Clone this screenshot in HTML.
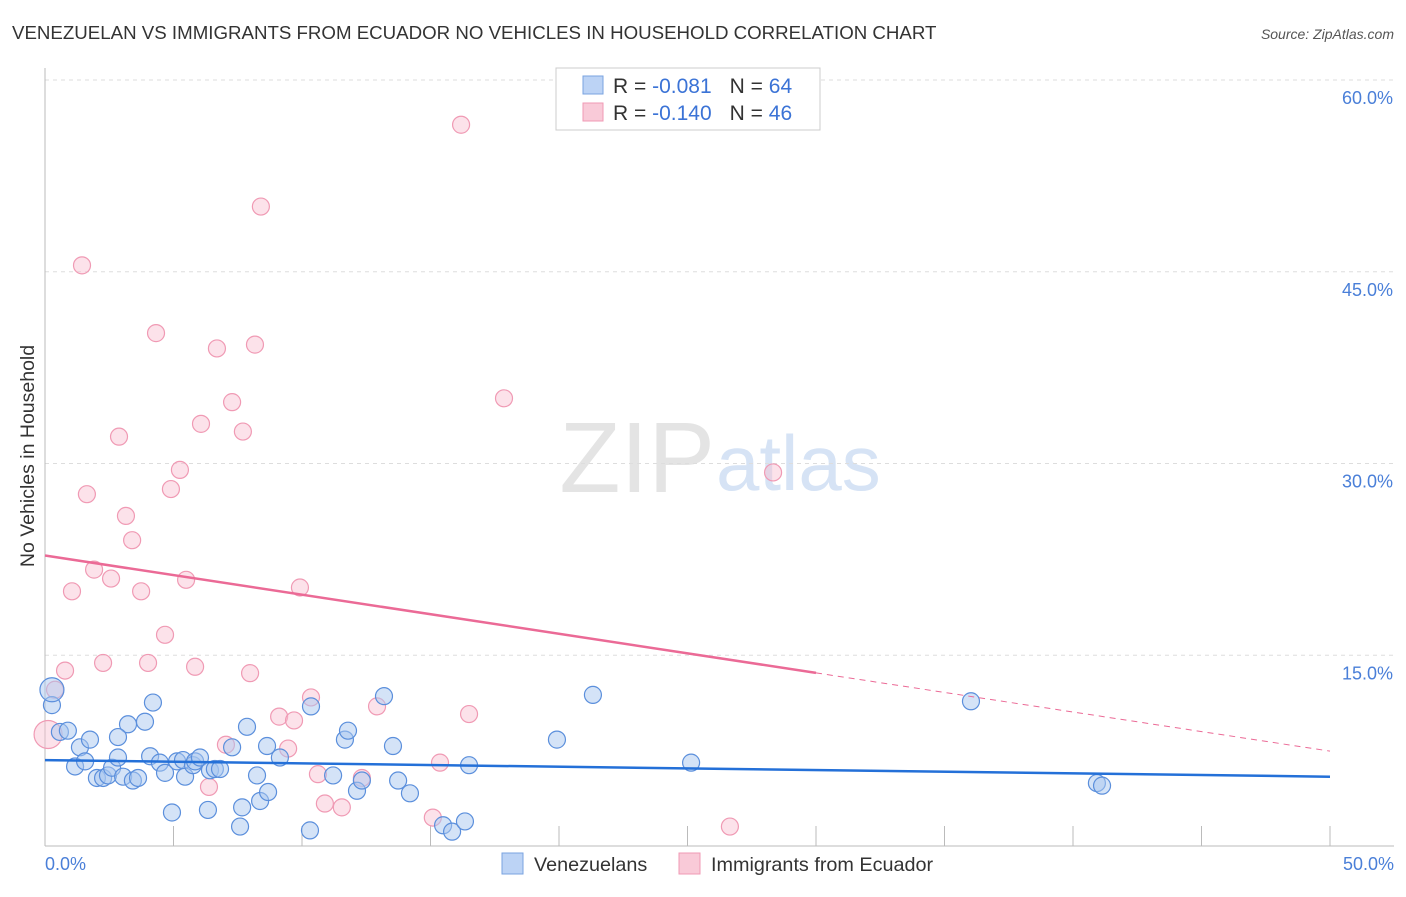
<!DOCTYPE html>
<html><head><meta charset="utf-8"><style>
body{margin:0;background:#fff;font-family:"Liberation Sans",sans-serif}
svg text{font-family:"Liberation Sans",sans-serif}
</style></head><body>
<svg width="1406" height="892" viewBox="0 0 1406 892">
<text x="12" y="39" font-size="18.7" fill="#333">VENEZUELAN VS IMMIGRANTS FROM ECUADOR NO VEHICLES IN HOUSEHOLD CORRELATION CHART</text>
<text x="1394" y="39" font-size="14" fill="#555" font-style="italic" text-anchor="end">Source: ZipAtlas.com</text>
<text x="715" y="492" font-size="100" fill="#e4e4e4" text-anchor="end" font-family="Liberation Serif">ZIP</text>
<text x="716" y="490" font-size="78" fill="#d6e3f5">atlas</text>
<g id="grid"></g>
<g id="axes"></g>
<text transform="translate(34,456) rotate(-90)" font-size="19.5" fill="#333" text-anchor="middle">No Vehicles in Household</text>
<g id="marks"></g>
<g id="trends"></g>
<g>
<rect x="556" y="68" width="264" height="62" fill="#fff" stroke="#ccc"/>
<rect x="583" y="76" width="20" height="18" fill="#bcd3f5" stroke="#7aa3e0"/>
<rect x="583" y="103" width="20" height="18" fill="#f9cad8" stroke="#f09ab4"/>
<text x="613" y="93" font-size="21" fill="#333">R = <tspan fill="#3b73d6">-0.081</tspan><tspan dx="18">N = </tspan><tspan fill="#3b73d6">64</tspan></text>
<text x="613" y="120" font-size="21" fill="#333">R = <tspan fill="#3b73d6">-0.140</tspan><tspan dx="18">N = </tspan><tspan fill="#3b73d6">46</tspan></text>
</g>
<g>
<rect x="502" y="853" width="21" height="21" fill="#bcd3f5" stroke="#7aa3e0"/>
<text x="534" y="871" font-size="19.8" fill="#333">Venezuelans</text>
<rect x="679" y="853" width="21" height="21" fill="#f9cad8" stroke="#f09ab4"/>
<text x="711" y="871" font-size="19.8" fill="#333">Immigrants from Ecuador</text>
</g>
</svg>
<script>
const yTicks=[15,30,45,60];
const yTickLabels=["15.0%","30.0%","45.0%","60.0%"];
const xTickVals=[0,5,10,15,20,25,30,35,40,45,50];
const blueX=[0.27,0.27,0.58,0.89,1.17,1.36,1.56,1.75,2.02,2.26,2.45,2.61,2.84,3.04,3.42,3.62,3.23,3.89,4.2,4.09,4.47,4.67,4.94,5.14,5.45,5.37,5.76,5.84,6.03,6.42,6.61,6.81,6.34,7.28,7.67,7.59,7.86,8.25,8.37,8.64,8.68,9.14,10.31,10.35,11.21,11.67,11.79,12.14,12.33,13.19,13.54,13.74,14.2,15.49,15.84,16.34,16.5,19.92,21.32,25.14,36.03,40.93,41.13,2.84];
const blueY=[11.1,12.3,9.0,9.1,6.3,7.8,6.7,8.4,5.4,5.4,5.6,6.2,7.0,5.5,5.2,5.4,9.6,9.8,11.3,7.1,6.6,5.8,2.7,6.7,5.5,6.8,6.4,6.7,7.0,6.0,6.1,6.1,2.9,7.8,3.1,1.6,9.4,5.6,3.6,7.9,4.3,7.0,1.3,11.0,5.6,8.4,9.1,4.4,5.2,11.8,7.9,5.2,4.2,1.7,1.2,2.0,6.4,8.4,11.9,6.6,11.4,5.0,4.8,8.6];
const pinkX=[16.19,8.4,1.44,4.32,6.69,8.17,7.28,6.07,7.7,2.88,17.86,5.25,4.9,1.63,3.15,3.39,1.91,2.57,5.49,1.05,3.74,9.92,28.33,4.67,2.26,4.01,5.84,0.78,7.98,0.39,10.35,9.11,9.69,12.92,16.5,0.12,7.04,9.46,15.37,10.62,12.33,10.89,11.55,6.38,15.09,26.65];
const pinkY=[56.5,50.1,45.5,40.2,39.0,39.3,34.8,33.1,32.5,32.1,35.1,29.5,28.0,27.6,25.9,24.0,21.7,21.0,20.9,20.0,20.0,20.3,29.3,16.6,14.4,14.4,14.1,13.8,13.6,12.3,11.7,10.2,9.9,11.0,10.4,8.8,8.0,7.7,6.6,5.7,5.4,3.4,3.1,4.7,2.3,1.6];
const blueTrend=[6.8,5.5];
const pinkTrend=[22.8,7.5];
const pinkSolidEnd=30;
const NS="http://www.w3.org/2000/svg";
const X=v=>45+v/50*1285, Y=v=>847-v/60*767;
function mk(t,a,p){const e=document.createElementNS(NS,t);for(const k in a)e.setAttribute(k,a[k]);p.appendChild(e);return e;}
const grid=document.getElementById('grid'),axes=document.getElementById('axes'),marks=document.getElementById('marks'),tr=document.getElementById('trends');
yTicks.forEach((v,i)=>{
 const l=mk('line',{x1:45,x2:1394,y1:Y(v),y2:Y(v),stroke:'#ddd','stroke-dasharray':'4,4'},grid);
 
 
 const t=mk('text',{x:1393,y:Y(v)+24,'font-size':18,fill:'#4a7fd8','text-anchor':'end'},grid);
 t.textContent=yTickLabels[i];
 
 
});
const al=mk('line',{x1:45,x2:45,y1:68,y2:846,stroke:'#bbb'},axes);


const bl=mk('line',{x1:45,x2:1394,y1:846,y2:846,stroke:'#bbb'},axes);


xTickVals.forEach(v=>{
 const t=mk('line',{x1:X(v),x2:X(v),y1:826,y2:846,stroke:'#bbb'},axes);
 
 
});
const x0=mk('text',{x:45,y:870,'font-size':18,fill:'#4a7fd8'},axes);x0.textContent='0.0%';


const x1=mk('text',{x:1394,y:870,'font-size':18,fill:'#4a7fd8','text-anchor':'end'},axes);x1.textContent='50.0%';


pinkX.forEach((v,i)=>{
 const c=mk('circle',{cx:X(v),cy:Y(pinkY[i]),r:i==35?14:8.5,fill:'rgba(249,190,208,0.45)',stroke:'#f09ab4','stroke-width':1.2},marks);
 
 
});
blueX.forEach((v,i)=>{
 const c=mk('circle',{cx:X(v),cy:Y(blueY[i]),r:i==1?12:8.5,fill:'rgba(170,200,240,0.5)',stroke:'#5b8fdc','stroke-width':1.2},marks);
 
 
});
const bt=mk('line',{x1:X(0),y1:Y(blueTrend[0]),x2:X(50),y2:Y(blueTrend[1]),stroke:'#2470d8','stroke-width':2.5},tr);


const pm=pinkTrend[0]+(pinkTrend[1]-pinkTrend[0])*pinkSolidEnd/50;
const pt=mk('line',{x1:X(0),y1:Y(pinkTrend[0]),x2:X(pinkSolidEnd),y2:Y(pm),stroke:'#eb6a96','stroke-width':2.5},tr);


const pd=mk('line',{x1:X(pinkSolidEnd),y1:Y(pm),x2:X(50),y2:Y(pinkTrend[1]),stroke:'#eb6a96','stroke-width':1,'stroke-dasharray':'6,5'},tr);


</script>
</body></html>
